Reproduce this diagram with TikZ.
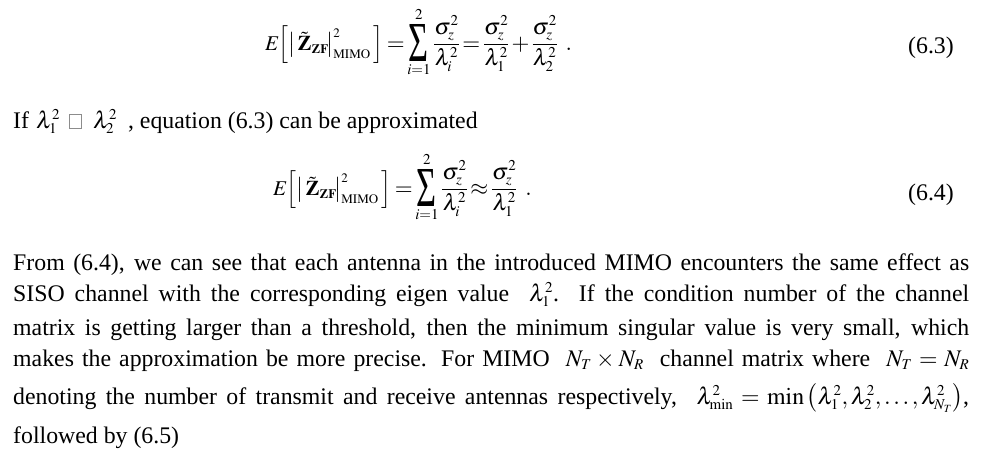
\documentclass[tikz,border=0pt]{standalone}
\usepackage{amsmath}
\usepackage{graphicx}
\usepackage{mathptmx}
\usepackage[no-math]{fontspec}
\setmainfont{Liberation Serif}
\DeclareMathSizes{23.8}{23.8}{15}{11}
\DeclareMathSizes{21}{21}{13}{10}
\DeclareMathSizes{23}{23}{15}{11}
\newcommand\fsz{\fontsize{23.8}{28}\selectfont}
\newcommand\sqglyph{{\color{gray!90}\setlength\fboxrule{1pt}\setlength\fboxsep{0pt}\fbox{\rule{0pt}{13pt}\hspace{11pt}}}}
\newcommand\jline[1]{\hbox to 956pt{#1}}
\newcommand\bigsum{\mathop{\raisebox{-11pt}{\resizebox{20pt}{37pt}{Σ}}}\limits}
\newcommand\lhs{{\fontsize{21}{25}\selectfont$E\mkern-1mu\Big[\mkern0mu\big|\mkern2mu\tilde{\mathbf{Z}}_{\mathbf{ZF}}\mkern-2mu\big|^{2}_{\mathrm{MIMO}}\mkern2mu\Big]$}}
\newcommand\rhs[1]{{\fontsize{23}{27}\selectfont\thickmuskip=2mu\medmuskip=1.5mu$\displaystyle #1$}}
\newcommand\fr[1]{\frac{\sigma_z^2}{\lambda_{#1}^2}}
\tikzset{
  txt/.style={inner sep=0pt, anchor=base west, font=\fsz},
  eqn/.style={inner sep=0pt, anchor=base west},
}
\begin{document}
\begin{tikzpicture}[x=1pt,y=-1pt]
\useasboundingbox (0,0) rectangle (988,458);
% equation 6.3
\node[eqn] (eq3) at (265,50) {\lhs\rhs{\mkern3mu=\bigsum_{i=1}^{2}\fr{i}=\fr{1}+\fr{2}\mkern6mu.}};
\node[txt] (n3) at (908,53) {(6.3)};
% If line
\node[txt] (ifl) at (13,128) {If\hspace{7pt}$\lambda_1^2$\hspace{9pt}\sqglyph\hspace{11pt}$\lambda_2^2$\hspace{11pt}, equation (6.3) can be approximated};
% equation 6.4
\node[eqn] (eq4) at (273,195) {\lhs\rhs{\mkern3mu=\bigsum_{i=1}^{2}\fr{i}\approx\fr{1}\mkern6mu.}};
\node[txt] (n4) at (908,200) {(6.4)};
% paragraph
\node[txt] (l1) at (13,270) {\jline{From (6.4), we can see that each antenna in the introduced MIMO encounters the same effect as}};
\node[txt] (l2) at (13,301) {\jline{SISO channel with the corresponding eigen value \ $\lambda_1^2$. If the condition number of the channel}};
\node[txt] (l3) at (13,335) {\jline{matrix is getting larger than a threshold, then the minimum singular value is very small, which}};
\node[txt] (l4) at (13,366) {\jline{makes the approximation be more precise. For MIMO \ $N_T\times N_R$ \ channel matrix where \ $N_T=N_R$}};
\node[txt] (l5) at (13,404) {\jline{denoting the number of transmit and receive antennas respectively, \ $\lambda_{\min}^2=\min\left(\lambda_1^2,\lambda_2^2,\dots,\lambda_{N_T}^2\right)$,}};
\node[txt] (l6) at (13,443) {followed by (6.5)};
\end{tikzpicture}
\end{document}
